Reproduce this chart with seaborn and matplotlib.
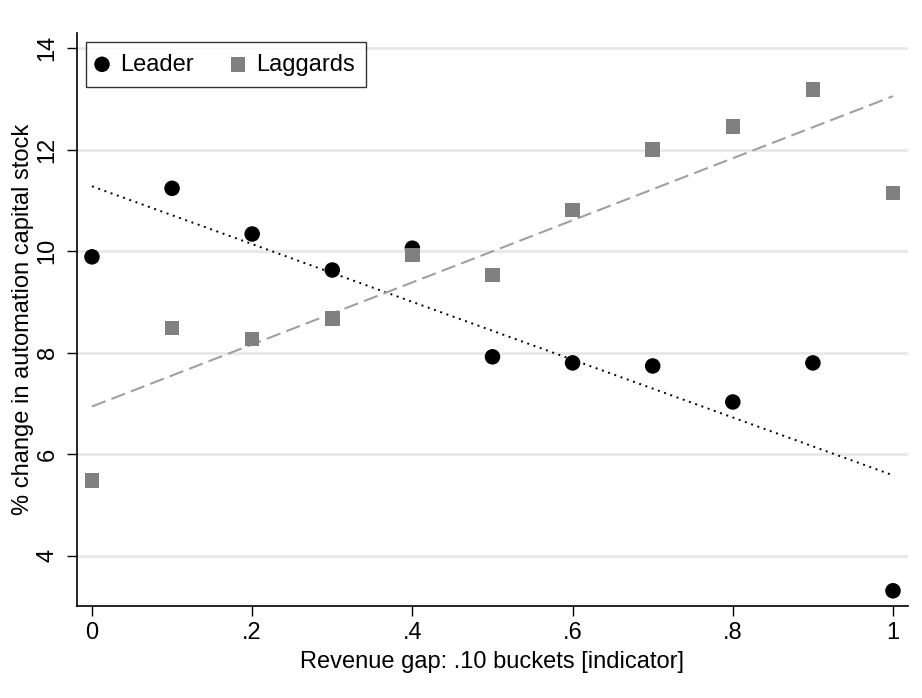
import numpy as np
import pandas as pd
import matplotlib
matplotlib.use("Agg")
import matplotlib.pyplot as plt
import seaborn as sns

sns.set_style("white")
plt.rcParams['font.family'] = ['Liberation Sans', 'DejaVu Sans']
plt.rcParams['text.color'] = 'black'
plt.rcParams['axes.labelcolor'] = 'black'
plt.rcParams['xtick.color'] = 'black'
plt.rcParams['ytick.color'] = 'black'

# Data
revenue_gap = [0.0, 0.1, 0.2, 0.3, 0.4, 0.5, 0.6, 0.7, 0.8, 0.9, 1.0]
leader = [9.89, 11.24, 10.34, 9.63, 10.06, 7.92, 7.80, 7.74, 7.03, 7.80, 3.31]
laggards = [5.48, 8.49, 8.27, 8.67, 9.93, 9.53, 10.81, 12.00, 12.46, 13.19, 11.15]
y_ticks = [4, 6, 8, 10, 12, 14]
x_ticks = [0, 0.2, 0.4, 0.6, 0.8, 1.0]
x_ticklabels = ["0", ".2", ".4", ".6", ".8", "1"]

df = pd.DataFrame({"gap": revenue_gap, "Leader": leader, "Laggards": laggards})

FS = 17

fig = plt.figure(figsize=(9.22, 6.98), dpi=100)
ax = fig.add_axes([0.0835, 0.1318, 0.9013, 0.8209])

# horizontal grid
for yv in y_ticks:
    ax.axhline(yv, color="#e8e8e8", lw=2, zorder=0)

# fitted lines
sns.regplot(data=df, x="gap", y="Leader", scatter=False, ci=None, ax=ax,
            line_kws=dict(color="black", ls=(0, (1, 2.4)), lw=1.4))
sns.regplot(data=df, x="gap", y="Laggards", scatter=False, ci=None, ax=ax,
            line_kws=dict(color="#a0a0a0", ls=(0, (7, 3)), lw=1.5))

# points
sns.scatterplot(data=df, x="gap", y="Leader", marker="o", s=125, color="black",
                edgecolor="none", label="Leader", ax=ax, zorder=3)
sns.scatterplot(data=df, x="gap", y="Laggards", marker="s", s=110, color="#808080",
                edgecolor="none", label="Laggards", ax=ax, zorder=3)

ax.set_xlim(-0.0187, 1.0187)
ax.set_ylim(3.01, 14.30)
ax.set_xticks(x_ticks)
ax.set_xticklabels(x_ticklabels)
ax.set_yticks(y_ticks)
ax.set_yticklabels([str(v) for v in y_ticks], rotation=90, va="center")
ax.tick_params(axis="both", direction="out", length=7.2, width=1, color="black",
               labelcolor="black", labelsize=FS, bottom=True, left=True)
ax.tick_params(axis="x", pad=4)
ax.tick_params(axis="y", pad=6)

for side in ["top", "right"]:
    ax.spines[side].set_visible(False)
for side in ["left", "bottom"]:
    ax.spines[side].set_color("black")
    ax.spines[side].set_linewidth(1.2)

ax.set_xlabel("Revenue gap: .10 buckets [indicator]", fontsize=FS, labelpad=5)
ax.set_ylabel("% change in automation capital stock", fontsize=FS, labelpad=2)

leg = ax.legend(loc="upper left", ncol=2, fontsize=FS, frameon=True, fancybox=False,
                edgecolor="black", borderpad=0.48, handletextpad=0.55,
                handlelength=0.4, columnspacing=1.7, borderaxespad=0,
                bbox_to_anchor=(0.0108, 0.984))
leg.get_frame().set_linewidth(1.0)

fig.savefig("out.png", dpi=100)
